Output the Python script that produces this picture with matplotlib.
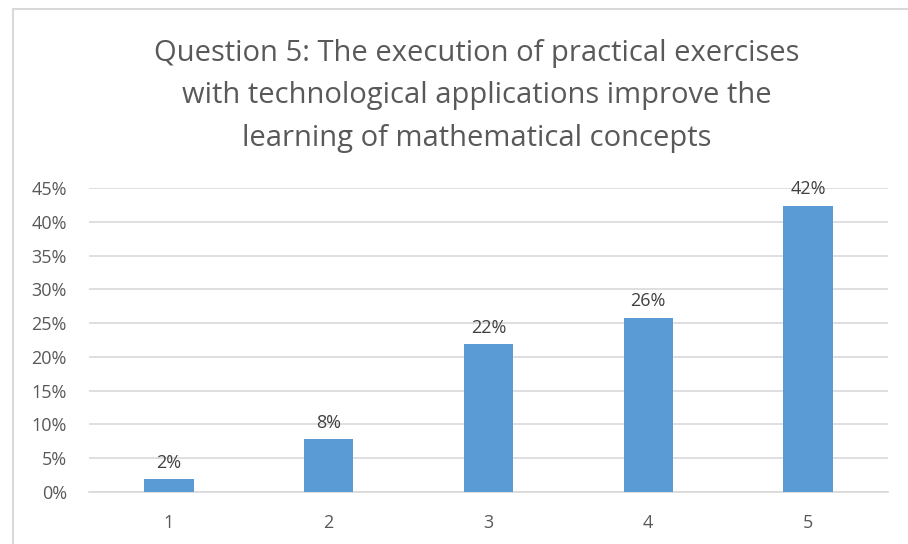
import matplotlib
matplotlib.use("Agg")
import matplotlib.pyplot as plt
from matplotlib.patches import Rectangle
from matplotlib.ticker import PercentFormatter

# survey answers (Likert scale 1-5) and share of respondents
categories = ["1", "2", "3", "4", "5"]
shares = [0.019, 0.078, 0.219, 0.258, 0.424]
labels = ["2%", "8%", "22%", "26%", "42%"]
title = ("Question 5: The execution of practical exercises\n"
         "with technological applications improve the\n"
         "learning of mathematical concepts")

plt.rcParams['font.family'] = ['Open Sans', 'DejaVu Sans']
grey = '#595959'

fig = plt.figure(figsize=(9.08, 5.44), dpi=100)
# chart frame like the office export
fig.patches.append(Rectangle((13 / 908, -0.1), 1.0, 1.1 - 9 / 544, transform=fig.transFigure,
                             fill=False, edgecolor='#d9d9d9', linewidth=1.5))

ax = fig.add_axes([89 / 908, 1 - 492 / 544, (888 - 89) / 908, (492 - 188) / 544])
x = range(len(categories))
ax.bar(x, shares, width=0.31, color='#5b9bd5', zorder=3)
for xi, v, lab in zip(x, shares, labels):
    ax.text(xi, v + 0.011, lab, ha='center', va='bottom', fontsize=13, color='#404040')

ax.set_xlim(-0.5, 4.5)
ax.set_ylim(0, 0.45)
ax.set_yticks([i * 0.05 for i in range(10)])
ax.yaxis.set_major_formatter(PercentFormatter(1.0, decimals=0))
ax.set_xticks(list(x))
ax.set_xticklabels(categories)
ax.grid(axis='y', color='#d9d9d9', linewidth=1.2, zorder=0)
for s in ['top', 'right', 'left']:
    ax.spines[s].set_visible(False)
ax.spines['bottom'].set_color('#d9d9d9')
ax.spines['bottom'].set_linewidth(1.2)
ax.tick_params(length=0, labelsize=13, colors=grey)
ax.tick_params(axis='x', pad=16)
ax.tick_params(axis='y', pad=16)

fig.text(477 / 908, 1 - 96 / 544, title, ha='center', va='center', fontsize=21,
         color=grey, linespacing=1.6)

fig.savefig("out.png", dpi=100)
